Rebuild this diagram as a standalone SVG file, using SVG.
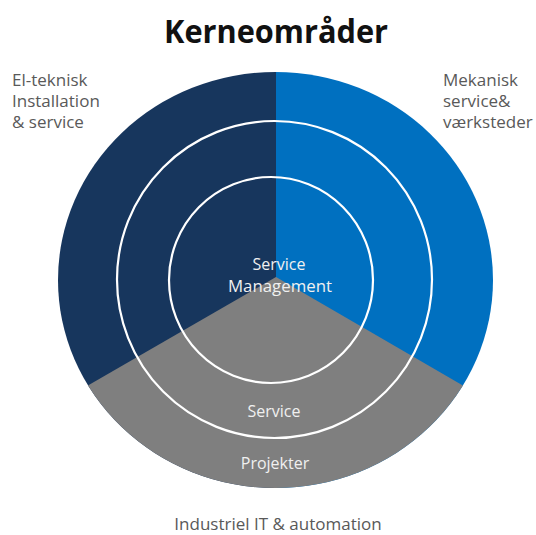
<svg xmlns="http://www.w3.org/2000/svg" width="536" height="535" viewBox="0 0 536 535">
<defs>
<style>
.lbl{font-family:"Open Sans","Noto Sans",sans-serif;font-size:17px;fill:#595959}
.in{font-family:"Open Sans","Noto Sans",sans-serif;font-size:16px;fill:#f0f0f0;text-anchor:middle}
.ring{fill:none;stroke:#ffffff;stroke-width:2.2}
</style>
<clipPath id="disc"><ellipse cx="275.5" cy="280" rx="217.5" ry="208"/></clipPath>
</defs>
<rect width="536" height="535" fill="#ffffff"/>
<text x="276" y="43" text-anchor="middle" font-family="'Open Sans','Noto Sans',sans-serif" font-weight="bold" font-size="33" fill="#111111" textLength="224" lengthAdjust="spacingAndGlyphs">Kerneområder</text>
<g id="sectors" clip-path="url(#disc)">
<rect id="el" x="40" y="60" width="236" height="450" fill="#17365d"/>
<rect id="mek" x="276" y="60" width="240" height="450" fill="#0070c0"/>
<path id="ind" d="M276,277 L-50,465 L-50,540 L600,540 L600,465 Z" fill="#7f7f7f"/>
</g>
<g id="rings">
<ellipse class="ring" cx="274.5" cy="279.5" rx="157.5" ry="158.5"/>
<ellipse class="ring" cx="271" cy="280" rx="102" ry="103"/>
</g>
<g id="label-el">
<text class="lbl" x="12" y="86">El-teknisk</text>
<text class="lbl" x="12" y="107">Installation</text>
<text class="lbl" x="12" y="128">&amp; service</text>
</g>
<g id="label-mek">
<text class="lbl" x="443" y="86">Mekanisk</text>
<text class="lbl" x="443" y="107">service&amp;</text>
<text class="lbl" x="443" y="128">værksteder</text>
</g>
<g id="label-sm">
<text class="in" x="279" y="270">Service</text>
<text class="in" x="280" y="292" textLength="104" lengthAdjust="spacingAndGlyphs">Management</text>
</g>
<g id="label-service"><text class="in" x="274" y="417">Service</text></g>
<g id="label-proj"><text class="in" x="275" y="469">Projekter</text></g>
<g id="label-ind"><text class="lbl" x="278" y="530" text-anchor="middle" font-size="16">Industriel IT &amp; automation</text></g>
</svg>
